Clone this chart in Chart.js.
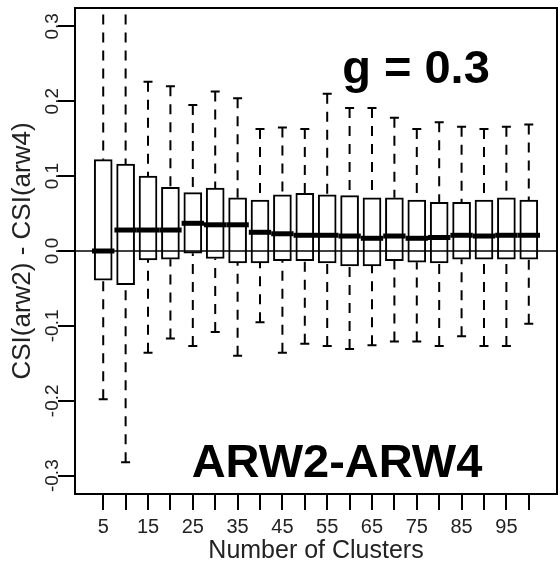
<!DOCTYPE html>
<html>
<head>
<meta charset="utf-8">
<title>CSI(arw2) - CSI(arw4), g = 0.3</title>
<script src="https://cdn.jsdelivr.net/npm/chart.js@4.4.1/dist/chart.umd.min.js"></script>
<style>
  html, body { margin: 0; padding: 0; background: #ffffff; }
  canvas { display: block; }
</style>
</head>
<body>
<canvas id="boxChart" width="558" height="566"></canvas>
<script>
// number of clusters
const clusters = [5, 10, 15, 20, 25, 30, 35, 40, 45, 50, 55, 60, 65, 70, 75, 80, 85, 90, 95, 100];
const xTickLabels = ['5', '', '15', '', '25', '', '35', '', '45', '', '55', '', '65', '', '75', '', '85', '', '95', ''];

// box statistics
const whiskerHigh = [0.34, 0.34, 0.226, 0.220, 0.195, 0.213, 0.204, 0.163, 0.165, 0.163, 0.210, 0.191, 0.191, 0.178, 0.163, 0.172, 0.166, 0.163, 0.166, 0.169];
const upperQuart = [0.122, 0.116, 0.100, 0.085, 0.078, 0.084, 0.071, 0.068, 0.075, 0.077, 0.075, 0.074, 0.071, 0.071, 0.068, 0.065, 0.065, 0.068, 0.071, 0.068];
const medians = [0.000, 0.028, 0.028, 0.028, 0.037, 0.035, 0.035, 0.025, 0.023, 0.021, 0.021, 0.020, 0.017, 0.020, 0.017, 0.018, 0.021, 0.020, 0.021, 0.021];
const lowerQuart = [-0.039, -0.045, -0.012, -0.011, -0.003, -0.010, -0.016, -0.016, -0.013, -0.013, -0.016, -0.020, -0.020, -0.013, -0.015, -0.016, -0.011, -0.011, -0.011, -0.011];
const whiskerLow = [-0.198, -0.282, -0.136, -0.117, -0.127, -0.108, -0.140, -0.095, -0.136, -0.124, -0.127, -0.131, -0.126, -0.121, -0.121, -0.127, -0.114, -0.127, -0.127, -0.097];

const yTicks = [-0.3, -0.2, -0.1, 0.0, 0.1, 0.2, 0.3];
const yTickLabels = ['-0.3', '-0.2', '-0.1', '0.0', '0.1', '0.2', '0.3'];

const FONT = '"Liberation Sans", Arial, Helvetica, sans-serif';

// whiskers, staples, medians, zero line, frame and rotated y labels
const boxExtras = {
	id: 'boxExtras',
	afterDatasetsDraw(chart) {
		const ctx = chart.ctx;
		const xs = chart.scales.x;
		const ys = chart.scales.y;
		const area = chart.chartArea;
		const staple = 4.5;

		ctx.save();
		ctx.beginPath();
		ctx.rect(area.left, area.top, area.right - area.left, area.bottom - area.top);
		ctx.clip();
		ctx.strokeStyle = '#000';

		clusters.forEach((c, i) => {
			const x = xs.getPixelForValue(c);
			const hi = ys.getPixelForValue(whiskerHigh[i]);
			const q3 = ys.getPixelForValue(upperQuart[i]);
			const q1 = ys.getPixelForValue(lowerQuart[i]);
			const lo = ys.getPixelForValue(whiskerLow[i]);

			// dashed whiskers
			ctx.lineWidth = 2;
			ctx.setLineDash([10, 8]);
			ctx.beginPath();
			ctx.moveTo(x, hi);
			ctx.lineTo(x, q3);
			ctx.moveTo(x, lo);
			ctx.lineTo(x, q1);
			ctx.stroke();

			// staples
			ctx.setLineDash([]);
			ctx.beginPath();
			ctx.moveTo(x - staple, hi);
			ctx.lineTo(x + staple, hi);
			ctx.moveTo(x - staple, lo);
			ctx.lineTo(x + staple, lo);
			ctx.stroke();

			// median, spanning the whole category width
			const m = ys.getPixelForValue(medians[i]);
			ctx.lineWidth = 5;
			ctx.beginPath();
			ctx.moveTo(xs.getPixelForValue(c - 2.5), m);
			ctx.lineTo(xs.getPixelForValue(c + 2.5), m);
			ctx.stroke();
		});

		// zero reference line
		const y0 = ys.getPixelForValue(0);
		ctx.lineWidth = 1.5;
		ctx.beginPath();
		ctx.moveTo(area.left, y0);
		ctx.lineTo(area.right, y0);
		ctx.stroke();
		ctx.restore();

		// frame
		ctx.save();
		ctx.strokeStyle = '#000';
		ctx.lineWidth = 2;
		ctx.strokeRect(area.left, area.top, area.right - area.left, area.bottom - area.top);

		// rotated y tick labels
		ctx.fillStyle = '#222';
		ctx.font = '19px ' + FONT;
		ctx.textAlign = 'center';
		ctx.textBaseline = 'middle';
		yTicks.forEach((v, i) => {
			ctx.save();
			ctx.translate(53, ys.getPixelForValue(v));
			ctx.rotate(-Math.PI / 2);
			ctx.fillText(yTickLabels[i], 0, 0);
			ctx.restore();
		});

		// panel annotations
		ctx.fillStyle = '#000';
		ctx.font = 'bold 47px ' + FONT;
		ctx.textBaseline = 'alphabetic';
		ctx.fillText('g = 0.3', 416, 83);
		ctx.fillText('ARW2-ARW4', 337, 477);
		ctx.restore();
	}
};

new Chart(document.getElementById('boxChart'), {
	type: 'bar',
	data: {
		datasets: [{
			data: clusters.map((c, i) => ({ x: c, y: [lowerQuart[i], upperQuart[i]] })),
			backgroundColor: '#ffffff',
			borderColor: '#000000',
			borderWidth: 2,
			borderSkipped: false,
			barThickness: 18
		}]
	},
	options: {
		responsive: false,
		animation: false,
		layout: { padding: { top: 8, right: 1 } },
		plugins: {
			legend: { display: false },
			tooltip: { enabled: false }
		},
		scales: {
			x: {
				type: 'linear',
				offset: false,
				min: -1.3,
				max: 106.3,
				afterBuildTicks: s => { s.ticks = clusters.map(v => ({ value: v })); },
				afterFit: s => { s.height = 72; },
				grid: { offset: false, drawOnChartArea: false, drawTicks: true, tickLength: 16, color: '#000', lineWidth: 2 },
				border: { display: true, color: '#000', width: 2 },
				ticks: {
					autoSkip: false,
					maxRotation: 0,
					padding: 5,
					color: '#222',
					font: { family: FONT, size: 20 },
					callback: (value, index) => xTickLabels[index]
				},
				title: {
					display: true,
					text: 'Number of Clusters',
					color: '#222',
					font: { family: FONT, size: 25 },
					padding: { top: 0, bottom: 0 }
				}
			},
			y: {
				min: -0.3245,
				max: 0.3245,
				afterBuildTicks: s => { s.ticks = yTicks.map(v => ({ value: v })); },
				afterFit: s => { s.width = 75; },
				grid: { drawOnChartArea: false, drawTicks: true, tickLength: 17, color: '#000', lineWidth: 2 },
				border: { display: true, color: '#000', width: 2 },
				ticks: { display: false },
				title: {
					display: true,
					text: 'CSI(arw2) - CSI(arw4)',
					color: '#222',
					font: { family: FONT, size: 26 },
					padding: { top: 7, bottom: 0 }
				}
			}
		}
	},
	plugins: [boxExtras]
});
</script>
</body>
</html>
